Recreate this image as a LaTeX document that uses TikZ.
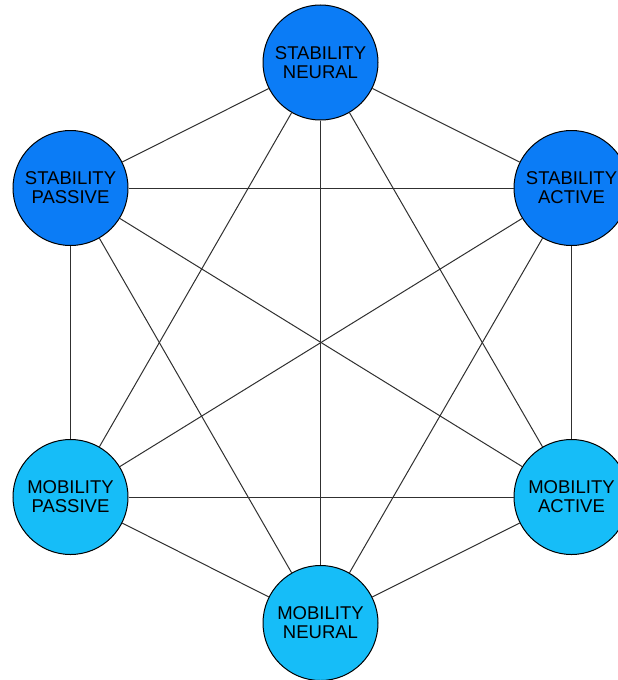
\documentclass[tikz,border=0pt]{standalone}
\usepackage{fontspec}
\setmainfont{Liberation Sans}
\definecolor{stab}{HTML}{0B7CF6}
\definecolor{mob}{HTML}{16BDF8}
\definecolor{edge}{HTML}{303030}
\begin{document}
\begin{tikzpicture}[x=1pt,y=-1pt,
  hub/.style={circle,draw=black,line width=1pt,minimum size=115pt,inner sep=0pt,align=center,font=\fontsize{18.5}{19}\selectfont,text=black},
  stabnode/.style={hub,fill=stab},
  mobnode/.style={hub,fill=mob},
  link/.style={draw=edge,line width=1pt}]
\useasboundingbox (0,0) rectangle (618,680);
\node[stabnode] (sn) at (320.5,62.5) {STABILITY\\NEURAL};
\node[stabnode] (sp) at (70.5,188) {STABILITY\\PASSIVE};
\node[stabnode] (sa) at (571.5,188) {STABILITY\\ACTIVE};
\node[mobnode] (mp) at (70.5,497) {MOBILITY\\PASSIVE};
\node[mobnode] (ma) at (571.5,497) {MOBILITY\\ACTIVE};
\node[mobnode] (mn) at (320.5,623) {MOBILITY\\NEURAL};
\foreach \a/\b in {sn/sp,sn/sa,sn/mp,sn/mn,sn/ma,sp/sa,sp/mp,sp/mn,sp/ma,sa/mp,sa/mn,sa/ma,mp/ma,mp/mn,ma/mn}
  \path[link] (\a) -- (\b);
\end{tikzpicture}
\end{document}
